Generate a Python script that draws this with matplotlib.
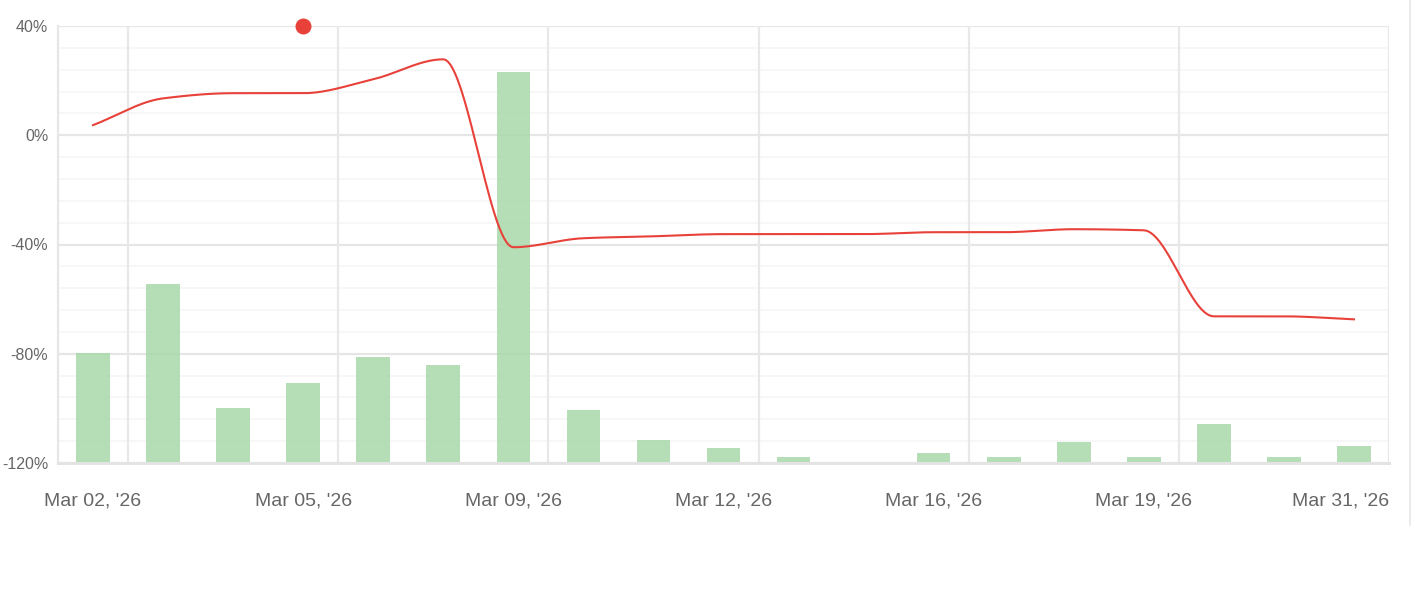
import numpy as np
import matplotlib
matplotlib.use("Agg")
import matplotlib.pyplot as plt
from matplotlib.lines import Line2D
import matplotlib.transforms as mtransforms

plt.rcParams['font.family'] = ['Liberation Sans', 'DejaVu Sans']

dates = ["Mar 02, '26", "Mar 03, '26", "Mar 04, '26", "Mar 05, '26", "Mar 06, '26",
         "Mar 07, '26", "Mar 09, '26", "Mar 10, '26", "Mar 11, '26", "Mar 12, '26",
         "Mar 13, '26", "Mar 14, '26", "Mar 16, '26", "Mar 17, '26", "Mar 18, '26",
         "Mar 19, '26", "Mar 20, '26", "Mar 23, '26", "Mar 31, '26"]
line_vals = [3.7, 13.5, 15.4, 15.4, 20.5, 27.8, -41.0, -37.7, -37.0, -36.2,
             -36.2, -36.2, -35.5, -35.5, -34.4, -34.8, -66.3, -66.3, -67.4]
bar_vals = [40.3, 65.5, 20.1, 29.3, 38.8, 35.9, 143.2, 19.4, 8.4, 5.5,
            2.2, 0.0, 3.7, 2.2, 7.7, 2.2, 14.3, 2.2, 6.2]
marker_idx = [3]
marker_vals = [40.0]
yticks = [40, 0, -40, -80, -120]
ytick_labels = ["40%", "0%", "-40%", "-80%", "-120%"]
xtick_idx = [0, 3, 6, 9, 12, 15, 18]

def monotone(x, y, n=30):
    x = np.asarray(x, float); y = np.asarray(y, float)
    h = np.diff(x); d = np.diff(y) / h
    m = np.zeros_like(y)
    m[0] = d[0]; m[-1] = d[-1]
    for i in range(1, len(y) - 1):
        if d[i - 1] * d[i] <= 0:
            m[i] = 0
        else:
            w1 = 2 * h[i] + h[i - 1]; w2 = h[i] + 2 * h[i - 1]
            m[i] = (w1 + w2) / (w1 / d[i - 1] + w2 / d[i])
    xs, ys = [], []
    for i in range(len(x) - 1):
        t = np.linspace(0, 1, n, endpoint=False)
        h00 = 2 * t**3 - 3 * t**2 + 1; h10 = t**3 - 2 * t**2 + t
        h01 = -2 * t**3 + 3 * t**2; h11 = t**3 - t**2
        xs.append(x[i] + t * h[i])
        ys.append(h00 * y[i] + h10 * h[i] * m[i] + h01 * y[i + 1] + h11 * h[i] * m[i + 1])
    xs.append([x[-1]]); ys.append([y[-1]])
    return np.concatenate(xs), np.concatenate(ys)

W, H = 1415, 610
fig = plt.figure(figsize=(W / 100, H / 100), dpi=100)
ax = fig.add_axes([58 / W, 1 - 463 / H, (1389 - 58) / W, (463 - 26) / H])
x = np.arange(len(dates))

# grid
for v in np.arange(-120, 41, 8):
    major = (v % 40 == 0)
    ax.axhline(v, color="#e6e6e6" if major else "#f6f6f6", lw=1.6 if major else 1.2, zorder=0)
for i in xtick_idx:
    ax.axvline(i + 0.5, color="#e8e8e8", lw=1.6, zorder=0)

ax.bar(x, bar_vals, bottom=-120, width=0.48, color="#a8d9aa", alpha=0.85, zorder=2)
xs, ys = monotone(x, line_vals)
ax.plot(xs, ys, color="#e8413a", lw=1.5, zorder=3)
ax.scatter(marker_idx, marker_vals, s=110, color="#e8413a", zorder=5, clip_on=False)

ax.set_xlim(-0.5, 18.5)
ax.set_ylim(-120, 40)
for s in ["top", "right"]:
    ax.spines[s].set_visible(False)
ax.spines["left"].set_color("#e6e6e6"); ax.spines["left"].set_linewidth(1.6)
ax.spines["bottom"].set_color("#e3e3e3"); ax.spines["bottom"].set_linewidth(2.2)

ax.set_yticks(yticks)
ax.set_yticklabels(ytick_labels, fontsize=11.5, color="#666666")
ax.tick_params(axis="y", length=0, pad=7)
ax.set_xticks(xtick_idx)
ax.set_xticklabels([])
ax.tick_params(axis="x", length=0)

trans = mtransforms.blended_transform_factory(ax.transData, fig.transFigure)
for k, i in enumerate(xtick_idx):
    last = (k == len(xtick_idx) - 1)
    ax.text(18.5 if last else i, 1 - 501 / H, dates[i], transform=trans,
            ha="right" if last else "center", va="center", fontsize=14, color="#666666")

fig.add_artist(Line2D([1410 / W, 1410 / W], [1 - 525 / H, 1], color="#e8e8e8", lw=1.2))
fig.savefig("out.png", dpi=100, facecolor="white")
